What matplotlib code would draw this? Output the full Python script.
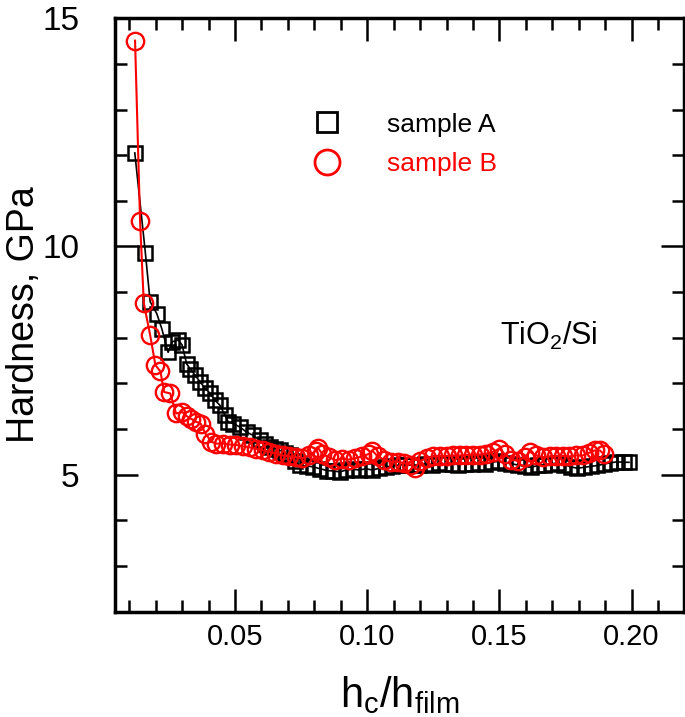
import matplotlib
matplotlib.use("Agg")
import matplotlib.pyplot as plt
from matplotlib.lines import Line2D
from matplotlib.ticker import MultipleLocator, FormatStrFormatter

plt.rcParams['font.family'] = ['Liberation Sans', 'DejaVu Sans']
plt.rcParams['mathtext.default'] = 'regular'

# ---------------- data ----------------
a_x = [0.0121, 0.0161, 0.0179, 0.0204, 0.0223, 0.0247, 0.0262, 0.0286, 0.0300, 0.0317,
       0.0330, 0.0349, 0.0368, 0.0387, 0.0406, 0.0424, 0.0443, 0.0462, 0.0475, 0.0494,
       0.0519, 0.0544, 0.0569, 0.0594, 0.0613, 0.0632, 0.0651, 0.0670, 0.0689, 0.0708,
       0.0727, 0.0746, 0.0771, 0.0796, 0.0821, 0.0847, 0.0872, 0.0897,
       0.0920, 0.0945, 0.0970, 0.0995, 0.1020, 0.1045, 0.1070, 0.1095, 0.1120, 0.1145,
       0.1170, 0.1195, 0.1220, 0.1245, 0.1270, 0.1295, 0.1320, 0.1345, 0.1370, 0.1395,
       0.1420, 0.1445, 0.1470, 0.1495, 0.1520, 0.1545, 0.1570, 0.1595, 0.1620, 0.1645,
       0.1670, 0.1695, 0.1720, 0.1745, 0.1770, 0.1795, 0.1820, 0.1845, 0.1870, 0.1895,
       0.1920, 0.1945, 0.1970, 0.1990]
a_y = [12.05, 9.86, 8.79, 8.53, 8.20, 7.68, 7.91, 7.95, 7.84, 7.43,
       7.32, 7.18, 7.03, 6.89, 6.78, 6.63, 6.52, 6.30, 6.15, 6.12,
       6.04, 5.93, 5.86, 5.75, 5.68, 5.61, 5.57, 5.53, 5.48, 5.42,
       5.30, 5.20, 5.19, 5.17, 5.13, 5.09, 5.08, 5.06,
       5.10, 5.12, 5.10, 5.13, 5.10, 5.14, 5.17, 5.19, 5.21, 5.22,
       5.20, 5.22, 5.24, 5.22, 5.25, 5.23, 5.24, 5.22, 5.24, 5.23,
       5.25, 5.24, 5.27, 5.29, 5.26, 5.24, 5.21, 5.18, 5.16, 5.20,
       5.22, 5.24, 5.25, 5.22, 5.17, 5.14, 5.16, 5.18, 5.20, 5.23,
       5.26, 5.28, 5.27, 5.27]

b_x = [0.0122, 0.0141, 0.0155, 0.0179, 0.0199, 0.0218, 0.0232, 0.0255, 0.0277, 0.0301,
       0.0318, 0.0335, 0.0352, 0.0370, 0.0388, 0.0411, 0.0430,
       0.0456, 0.0480, 0.0505, 0.0530, 0.0555, 0.0580, 0.0605, 0.0630, 0.0655, 0.0680,
       0.0705, 0.0730, 0.0755, 0.0780, 0.0805, 0.0815, 0.0830, 0.0855, 0.0880, 0.0905,
       0.0930, 0.0955, 0.0980, 0.1005, 0.1020, 0.1040, 0.1065, 0.1090, 0.1115, 0.1140,
       0.1165, 0.1180, 0.1200, 0.1225, 0.1250, 0.1275, 0.1300, 0.1325, 0.1350, 0.1375,
       0.1400, 0.1425, 0.1450, 0.1475, 0.1500, 0.1520, 0.1545, 0.1570, 0.1595, 0.1615,
       0.1640, 0.1665, 0.1690, 0.1715, 0.1740, 0.1765, 0.1790, 0.1815, 0.1840, 0.1860,
       0.1880, 0.1895]
b_y = [14.51, 10.55, 8.76, 8.06, 7.40, 7.26, 6.81, 6.78, 6.34, 6.37,
       6.28, 6.22, 6.16, 6.12, 5.90, 5.72, 5.68,
       5.68, 5.66, 5.65, 5.62, 5.60, 5.56, 5.53, 5.50, 5.46, 5.42,
       5.40, 5.38, 5.36, 5.42, 5.52, 5.58, 5.45, 5.38, 5.32, 5.35,
       5.33, 5.36, 5.40, 5.45, 5.52, 5.40, 5.32, 5.28, 5.28, 5.25,
       5.22, 5.14, 5.30, 5.36, 5.40, 5.40, 5.41, 5.42, 5.42, 5.43,
       5.44, 5.44, 5.46, 5.50, 5.57, 5.45, 5.33, 5.30, 5.38, 5.50,
       5.42, 5.38, 5.40, 5.40, 5.41, 5.40, 5.42, 5.42, 5.48, 5.53,
       5.53, 5.45]

label_a = "sample A"
label_b = "sample B"
x_label = r"h$_c$/h$_{film}$"
y_label = "Hardness, GPa"
annot = r"TiO$_2$/Si"

# ---------------- figure ----------------
fig = plt.figure(figsize=(6.85, 7.17), dpi=100)
ax = fig.add_axes([0.1686, 0.1471, 0.8299, 0.8274])

ax.plot(a_x, a_y, color='black', lw=1.2, marker='s', ms=10, mfc='none',
        mec='black', mew=1.8, zorder=2)
ax.plot(b_x, b_y, color='red', lw=1.5, marker='o', ms=12.5, mfc='none',
        mec='red', mew=1.7, zorder=3)

ax.set_xlim(0.0048, 0.2198)
ax.set_ylim(2, 15)

ax.xaxis.set_major_locator(MultipleLocator(0.05))
ax.xaxis.set_minor_locator(MultipleLocator(0.01))
ax.xaxis.set_major_formatter(FormatStrFormatter('%.2f'))
ax.yaxis.set_major_locator(MultipleLocator(5))
ax.yaxis.set_minor_locator(MultipleLocator(1))

ax.tick_params(which='both', direction='in', top=True, right=True, width=1.8)
ax.tick_params(which='major', length=16.5)
ax.tick_params(which='minor', length=8.5)
ax.tick_params(axis='x', which='major', labelsize=21, pad=8)
ax.tick_params(axis='y', which='major', labelsize=24, pad=26)
for s in ax.spines.values():
    s.set_linewidth(2.5)

ax.set_xlabel(x_label, fontsize=30)
ax.xaxis.set_label_coords(0.5, -0.105)
ax.set_ylabel(y_label, fontsize=27)
ax.yaxis.set_label_coords(-0.129, 0.5)

ax.text(0.677, 0.450, annot, transform=ax.transAxes, fontsize=22,
        ha='left', va='baseline')

handles = [Line2D([], [], ls='none', marker='s', ms=14, mfc='none', mec='black', mew=2.0),
           Line2D([], [], ls='none', marker='o', ms=18, mfc='none', mec='red', mew=2.0)]
leg = ax.legend(handles, [label_a, label_b], loc='upper left',
                bbox_to_anchor=(0.325, 0.841), frameon=False, fontsize=19,
                handlelength=2.0, handletextpad=1.3, labelspacing=0.6,
                borderpad=0, borderaxespad=0, labelcolor=['black', 'red'])

fig.savefig('out.png', dpi=100)
